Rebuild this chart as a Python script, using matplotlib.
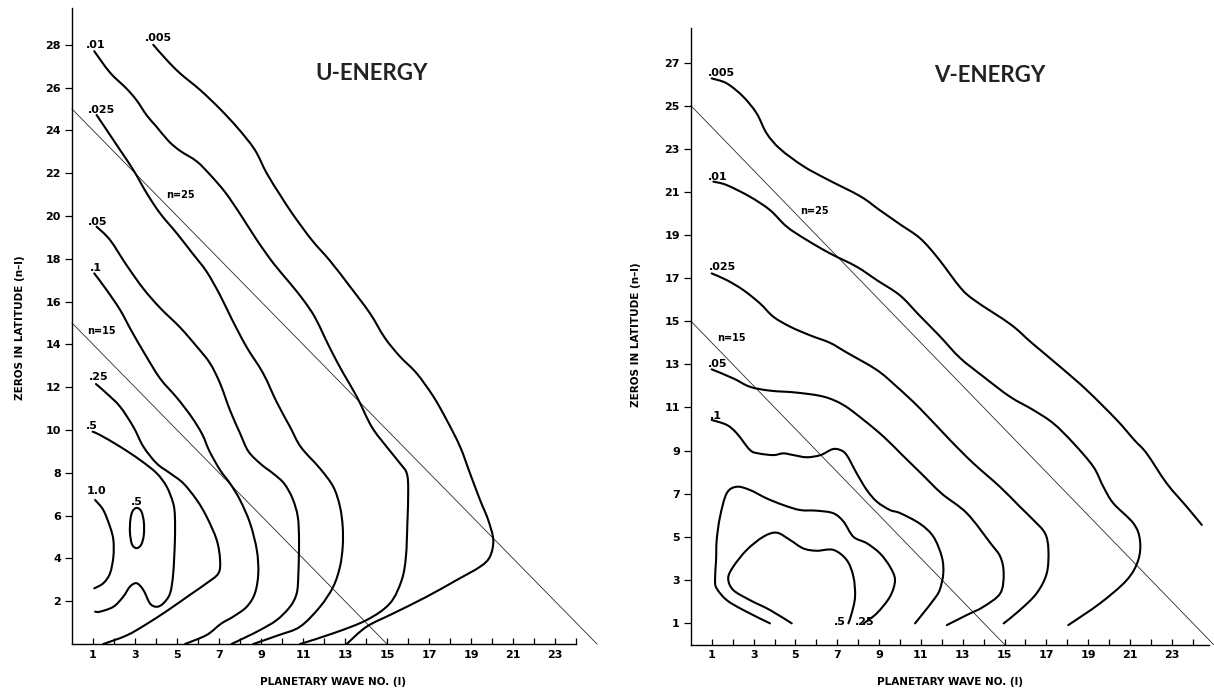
import matplotlib
matplotlib.use("Agg")
import matplotlib.pyplot as plt
from matplotlib.path import Path
from matplotlib.patches import PathPatch
from matplotlib.ticker import FixedLocator, NullFormatter

# ---------------- U-energy isolines (planetary wave l, zeros n-l) ----------------
u_005 = [(3.87, 28.0), (4.51, 27.29), (5.14, 26.67), (6.1, 25.89), (7.05, 25.0), (7.9, 24.1),
         (8.7, 23.1), (9.27, 22.0), (9.9, 21.0), (10.5, 20.1), (11.4, 18.9), (12.29, 17.9),
         (13.24, 16.7), (14.19, 15.45), (14.9, 14.3), (15.62, 13.43), (16.41, 12.65),
         (17.21, 11.56), (17.84, 10.47), (18.48, 9.22), (18.95, 7.98), (19.43, 6.73),
         (19.82, 5.79), (20.06, 4.86), (19.9, 4.08), (19.43, 3.61), (18.32, 2.99),
         (16.89, 2.21), (15.3, 1.43), (14.03, 0.81), (13.08, 0.0)]
u_01 = [(1.06, 27.7), (1.81, 26.7), (2.6, 25.95), (3.08, 25.4), (3.56, 24.7), (4.0, 24.2),
        (4.6, 23.5), (5.14, 23.05), (5.94, 22.55), (6.6, 21.9), (7.3, 21.1), (8.0, 20.1),
        (8.8, 18.88), (9.59, 17.79), (10.38, 16.86), (11.02, 16.07), (11.55, 15.3),
        (12.0, 14.4), (12.4, 13.6), (12.92, 12.65), (13.56, 11.56), (14.27, 10.15),
        (14.98, 9.22), (15.62, 8.44), (15.94, 7.98), (16.01, 7.2), (15.97, 5.64),
        (15.9, 4.08), (15.7, 2.99), (15.14, 1.9), (14.03, 1.12), (12.44, 0.5), (10.86, 0.0)]
u_025 = [(1.17, 24.72), (1.65, 24.02), (2.29, 23.08), (2.92, 22.15), (3.56, 21.06),
         (4.19, 20.13), (4.99, 19.19), (5.7, 18.3), (6.41, 17.4), (7.05, 16.3), (7.6, 15.2),
         (8.3, 13.9), (9.1, 12.65), (9.75, 11.3), (10.38, 10.15), (10.9, 9.2), (11.81, 8.2),
         (12.44, 7.35), (12.76, 6.42), (12.89, 5.48), (12.89, 4.55), (12.76, 3.61),
         (12.44, 2.68), (11.81, 1.74), (10.86, 0.81), (9.8, 0.4), (8.63, 0.0)]
u_05 = [(1.17, 19.5), (1.81, 18.88), (2.6, 17.7), (3.4, 16.6), (4.2, 15.7), (5.14, 14.8),
        (5.94, 13.9), (6.57, 13.12), (7.05, 12.18), (7.52, 10.93), (8.0, 9.85), (8.4, 9.0),
        (9.0, 8.4), (9.6, 7.95), (10.1, 7.5), (10.5, 6.8), (10.75, 5.95), (10.81, 4.86),
        (10.78, 3.3), (10.7, 2.37), (10.38, 1.74), (9.75, 1.12), (8.95, 0.65), (8.32, 0.34),
        (7.6, 0.0)]
u_1 = [(1.06, 17.32), (1.65, 16.54), (2.29, 15.61), (2.85, 14.6), (3.5, 13.5), (4.2, 12.4),
       (5.0, 11.5), (5.7, 10.6), (6.2, 9.8), (6.55, 9.0), (7.05, 8.13), (7.52, 7.51),
       (8.0, 6.73), (8.48, 5.64), (8.8, 4.39), (8.87, 3.3), (8.71, 2.37), (8.32, 1.74),
       (7.68, 1.28), (7.1, 0.95), (6.41, 0.42), (5.38, 0.0)]
u_25 = [(1.14, 12.15), (1.65, 11.71), (2.29, 11.09), (2.92, 10.15), (3.4, 9.22), (4.03, 8.44),
        (4.67, 7.98), (5.3, 7.51), (5.94, 6.73), (6.41, 5.95), (6.89, 4.86), (7.05, 3.93),
        (6.97, 3.3), (6.41, 2.84), (5.62, 2.3), (4.6, 1.6), (3.5, 0.9), (2.6, 0.4), (1.49, 0.0)]
u_5 = [(0.98, 9.92), (1.33, 9.77), (2.29, 9.22), (3.24, 8.6), (4.03, 7.98), (4.51, 7.35),
       (4.82, 6.57), (4.9, 5.95), (4.9, 4.86), (4.82, 3.3), (4.67, 2.37), (4.35, 1.9),
       (4.03, 1.74), (3.71, 1.9), (3.4, 2.52), (3.08, 2.84), (2.76, 2.68), (2.44, 2.21),
       (1.97, 1.74), (1.33, 1.51), (1.1, 1.51)]
u_10 = [(1.1, 6.73), (1.49, 6.26), (1.81, 5.48), (1.97, 4.86), (1.97, 4.08), (1.81, 3.3),
        (1.49, 2.84), (1.06, 2.6)]
u_5_cell = [(3.08, 6.36), (3.3, 6.2), (3.42, 5.7), (3.42, 5.1), (3.3, 4.65), (3.08, 4.48),
            (2.86, 4.65), (2.76, 5.2), (2.78, 5.8), (2.88, 6.2)]

u_curves = [(u_005, False), (u_01, False), (u_025, False), (u_05, False), (u_1, False),
            (u_25, False), (u_5, False), (u_10, False), (u_5_cell, True)]
u_labels = [(".005", 3.45, 28.1), (".01", 0.65, 27.75), (".025", 0.75, 24.7),
            (".05", 0.75, 19.5), (".1", 0.85, 17.35), (".25", 0.8, 12.25),
            (".5", 0.65, 9.95), ("1.0", 0.72, 6.9), (".5", 2.8, 6.4)]
u_nlines = [("n=25", 25, 4.5, 20.75), ("n=15", 15, 0.7, 14.4)]

# ---------------- V-energy isolines ----------------
v_005 = [(0.99, 26.27), (1.71, 26.04), (2.5, 25.42), (3.14, 24.65), (3.62, 23.72),
         (4.26, 23.0), (5.37, 22.2), (6.49, 21.6), (8.1, 20.8), (9.04, 20.15), (10.0, 19.5),
         (10.96, 18.85), (11.8, 17.95), (12.9, 16.55), (13.6, 15.95), (15.3, 14.85),
         (16.3, 14.0), (17.66, 12.89), (18.93, 11.81), (20.37, 10.42), (21.2, 9.5),
         (21.8, 8.87), (22.76, 7.48), (23.72, 6.39), (24.44, 5.55)]
v_01 = [(1.07, 21.48), (1.71, 21.32), (2.82, 20.78), (3.78, 20.16), (4.58, 19.39),
        (5.54, 18.77), (6.65, 18.15), (7.93, 17.53), (8.89, 16.91), (10.0, 16.2),
        (10.9, 15.3), (11.91, 14.3), (12.87, 13.3), (13.99, 12.43), (15.26, 11.5),
        (16.38, 10.88), (17.34, 10.26), (18.3, 9.34), (19.25, 8.25), (19.73, 7.32),
        (20.21, 6.55), (21.17, 5.62), (21.48, 4.85), (21.4, 3.92), (20.85, 2.99),
        (19.57, 1.91), (18.05, 0.9)]
v_025 = [(0.99, 17.22), (1.71, 16.91), (2.5, 16.45), (3.3, 15.83), (3.94, 15.21),
         (4.74, 14.75), (5.69, 14.35), (6.65, 14.0), (7.45, 13.55), (8.89, 12.74),
         (9.85, 11.96), (10.96, 10.95), (12.39, 9.49), (13.51, 8.41), (14.78, 7.32),
         (15.74, 6.39), (16.38, 5.78), (16.94, 5.16), (17.1, 4.39), (17.02, 3.3),
         (16.54, 2.38), (15.74, 1.6), (14.96, 0.98)]
v_05 = [(0.99, 12.77), (2.02, 12.35), (2.82, 11.96), (3.78, 11.78), (5.05, 11.69),
        (6.35, 11.5), (7.3, 11.11), (8.26, 10.42), (9.22, 9.64), (10.1, 8.8), (11.0, 7.95),
        (12.0, 7.0), (13.2, 6.09), (14.33, 4.7), (14.8, 4.07), (14.96, 3.3), (14.8, 2.38),
        (13.99, 1.75), (13.2, 1.37), (12.24, 0.9)]
v_1 = [(0.99, 10.42), (1.71, 10.19), (2.19, 9.8), (2.82, 9.03), (3.22, 8.87), (3.94, 8.79),
       (4.42, 8.87), (4.9, 8.79), (5.54, 8.69), (6.2, 8.79), (6.76, 9.06), (7.13, 9.03),
       (7.45, 8.79), (7.93, 7.94), (8.41, 7.17), (8.89, 6.63), (9.52, 6.24), (10.0, 6.1),
       (10.96, 5.6), (11.6, 5.0), (12.0, 4.07), (12.07, 3.3), (11.9, 2.53), (11.6, 2.06),
       (11.1, 1.44), (10.72, 0.98)]
v_25 = [(3.78, 0.98), (2.5, 1.6), (1.71, 2.06), (1.23, 2.6), (1.15, 3.0), (1.2, 3.92),
        (1.23, 4.85), (1.39, 5.93), (1.71, 7.02), (2.19, 7.32), (2.82, 7.17), (3.62, 6.78),
        (4.42, 6.47), (5.22, 6.24), (6.01, 6.21), (6.81, 6.09), (7.3, 5.7), (7.77, 5.0),
        (8.41, 4.7), (9.04, 4.23), (9.52, 3.61), (9.76, 2.99), (9.52, 2.22), (8.89, 1.45),
        (8.26, 0.98)]
v_5 = [(4.82, 0.98), (3.78, 1.6), (2.82, 2.06), (2.02, 2.53), (1.78, 3.07), (2.02, 3.61),
       (2.67, 4.39), (3.46, 5.0), (4.1, 5.19), (4.74, 4.85), (5.37, 4.46), (6.01, 4.35),
       (6.81, 4.39), (7.45, 3.92), (7.77, 3.15), (7.85, 2.22), (7.69, 1.45), (7.53, 0.98)]

v_curves = [(v_005, False), (v_01, False), (v_025, False), (v_05, False), (v_1, False),
            (v_25, False), (v_5, False)]
v_labels = [(".005", 0.8, 26.3), (".01", 0.8, 21.45), (".025", 0.85, 17.3),
            (".05", 0.8, 12.8), (".1", 0.9, 10.35), (".5", 6.85, 0.8), (".25", 7.85, 0.8)]
v_nlines = [("n=25", 25, 5.2, 19.9), ("n=15", 15, 1.25, 14.0)]

# ---------------- axis ticks ----------------
u_yticks = list(range(2, 29, 2))
v_yticks = list(range(1, 28, 2))
x_ticks = list(range(1, 24, 2))
x_minor = list(range(2, 25, 2))


def smooth_path(pts, closed=False):
    """Cubic Bezier path through the given points (Catmull-Rom tangents)."""
    p = list(pts)
    n = len(p)
    verts = [p[0]]
    codes = [Path.MOVETO]
    segs = n if closed else n - 1
    for i in range(segs):
        p0 = p[(i - 1) % n] if (closed or i > 0) else p[i]
        p1 = p[i % n]
        p2 = p[(i + 1) % n]
        p3 = p[(i + 2) % n] if (closed or i + 2 < n) else p2
        c1 = (p1[0] + (p2[0] - p0[0]) / 6.0, p1[1] + (p2[1] - p0[1]) / 6.0)
        c2 = (p2[0] - (p3[0] - p1[0]) / 6.0, p2[1] - (p3[1] - p1[1]) / 6.0)
        verts += [c1, c2, p2]
        codes += [Path.CURVE4] * 3
    return Path(verts, codes)


plt.rcParams["font.family"] = "DejaVu Sans"

fig = plt.figure(figsize=(12.14, 6.92), dpi=100)
fig.patch.set_facecolor("white")

panels = [
    dict(rect=[0.05931, 0.06936, 0.43765, 0.91850], xlim=25.3, ylim=29.7, xspine=24.0,
         curves=u_curves, labels=u_labels, nlines=u_nlines, yticks=u_yticks,
         title="U-ENERGY", title_xy=(0.3064, 0.894)),
    dict(rect=[0.56919, 0.06864, 0.43040, 0.89061], xlim=25.0, ylim=28.6, xspine=24.8,
         curves=v_curves, labels=v_labels, nlines=v_nlines, yticks=v_yticks,
         title="V-ENERGY", title_xy=(0.8155, 0.891)),
]

for p in panels:
    ax = fig.add_axes(p["rect"])
    ax.set_xlim(0, p["xlim"])
    ax.set_ylim(0, p["ylim"])
    for side in ("top", "right"):
        ax.spines[side].set_visible(False)
    ax.spines["left"].set_linewidth(1.0)
    ax.spines["bottom"].set_linewidth(1.0)
    ax.spines["bottom"].set_bounds(0, p["xspine"])

    # reference lines n = l + (n-l)
    for name, n, tx, ty in p["nlines"]:
        ax.plot([0, n], [n, 0], color="#2a2a2a", lw=0.6, clip_on=False, zorder=2)
        ax.text(tx, ty, name, fontsize=7, fontweight="bold", ha="left", va="bottom")

    # energy isolines
    for pts, closed in p["curves"]:
        patch = PathPatch(smooth_path(pts, closed), facecolor="none", edgecolor="black",
                          lw=1.5, joinstyle="round", capstyle="round", zorder=3)
        ax.add_patch(patch)
    for txt, tx, ty in p["labels"]:
        ax.text(tx, ty, txt, fontsize=8, fontweight="bold", ha="left", va="bottom")

    ax.xaxis.set_major_locator(FixedLocator(x_ticks))
    ax.xaxis.set_minor_locator(FixedLocator(x_minor))
    ax.xaxis.set_minor_formatter(NullFormatter())
    ax.yaxis.set_major_locator(FixedLocator(p["yticks"]))
    ax.tick_params(axis="x", which="both", direction="in", length=4, width=0.9,
                   pad=4, labelsize=8)
    ax.tick_params(axis="y", direction="out", length=5, width=0.9, pad=3, labelsize=8)
    for lab in ax.get_xticklabels() + ax.get_yticklabels():
        lab.set_fontweight("bold")

    fig.text(p["title_xy"][0], p["title_xy"][1], p["title"], fontsize=16,
             fontweight="bold", family="Lato", ha="center", va="center", color="#222")

fig.text(20 / 1214, 1 - 328 / 692, "ZEROS IN LATITUDE (n\u2013l)", rotation=90,
         fontsize=7.5, fontweight="bold", ha="center", va="center")
fig.text(636 / 1214, 1 - 335 / 692, "ZEROS IN LATITUDE (n\u2013l)", rotation=90,
         fontsize=7.5, fontweight="bold", ha="center", va="center")
fig.text(333 / 1214, 1 - 682 / 692, "PLANETARY WAVE NO. (l)", fontsize=7.5,
         fontweight="bold", ha="center", va="center")
fig.text(950 / 1214, 1 - 682 / 692, "PLANETARY WAVE NO. (l)", fontsize=7.5,
         fontweight="bold", ha="center", va="center")

fig.savefig("out.png", dpi=100, facecolor="white")
